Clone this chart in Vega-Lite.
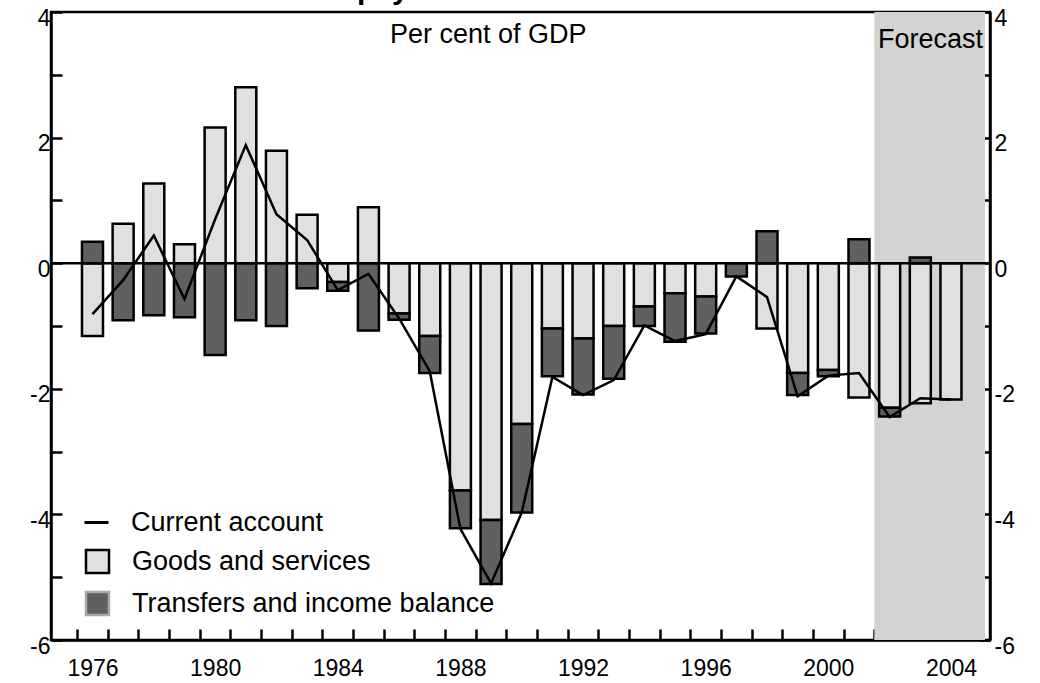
{
  "$schema": "https://vega.github.io/schema/vega-lite/v6.json",
  "width": 939,
  "height": 628,
  "autosize": "none",
  "padding": {"left": 51, "top": 12, "right": 50, "bottom": 43},
  "background": "white",
  "title": {"text": "Balance of payments", "fontSize": 30, "fontWeight": "bold", "font": "Liberation Sans", "anchor": "start", "frame": "group", "dx": 146, "dy": 27, "offset": 5, "baseline": "alphabetic", "color": "black"},
  "config": {
    "view": {"stroke": "black", "strokeWidth": 2.5},
    "font": "Liberation Sans",
    "axis": {"domainColor": "black", "domainWidth": 2.5, "tickColor": "black", "tickWidth": 2.5, "tickSize": -11, "labelFont": "Liberation Sans", "labelFontSize": 23, "labelColor": "black", "grid": false, "title": null, "labelOverlap": false, "labelFlush": false, "labelBound": false}
  },
  "datasets": {
    "bars": [
      {"year": 1976, "series": "Goods and services", "value": -1.16}, {"year": 1976, "series": "Transfers and income balance", "value": 0.34},
      {"year": 1977, "series": "Goods and services", "value": 0.63}, {"year": 1977, "series": "Transfers and income balance", "value": -0.91},
      {"year": 1978, "series": "Goods and services", "value": 1.27}, {"year": 1978, "series": "Transfers and income balance", "value": -0.83},
      {"year": 1979, "series": "Goods and services", "value": 0.30}, {"year": 1979, "series": "Transfers and income balance", "value": -0.86},
      {"year": 1980, "series": "Goods and services", "value": 2.16}, {"year": 1980, "series": "Transfers and income balance", "value": -1.46},
      {"year": 1981, "series": "Goods and services", "value": 2.80}, {"year": 1981, "series": "Transfers and income balance", "value": -0.91},
      {"year": 1982, "series": "Goods and services", "value": 1.79}, {"year": 1982, "series": "Transfers and income balance", "value": -1.00},
      {"year": 1983, "series": "Goods and services", "value": 0.77}, {"year": 1983, "series": "Transfers and income balance", "value": -0.40},
      {"year": 1984, "series": "Goods and services", "value": -0.30}, {"year": 1984, "series": "Transfers and income balance", "value": -0.14},
      {"year": 1985, "series": "Goods and services", "value": 0.89}, {"year": 1985, "series": "Transfers and income balance", "value": -1.07},
      {"year": 1986, "series": "Goods and services", "value": -0.80}, {"year": 1986, "series": "Transfers and income balance", "value": -0.10},
      {"year": 1987, "series": "Goods and services", "value": -1.16}, {"year": 1987, "series": "Transfers and income balance", "value": -0.59},
      {"year": 1988, "series": "Goods and services", "value": -3.62}, {"year": 1988, "series": "Transfers and income balance", "value": -0.60},
      {"year": 1989, "series": "Goods and services", "value": -4.09}, {"year": 1989, "series": "Transfers and income balance", "value": -1.02},
      {"year": 1990, "series": "Goods and services", "value": -2.56}, {"year": 1990, "series": "Transfers and income balance", "value": -1.41},
      {"year": 1991, "series": "Goods and services", "value": -1.04}, {"year": 1991, "series": "Transfers and income balance", "value": -0.76},
      {"year": 1992, "series": "Goods and services", "value": -1.20}, {"year": 1992, "series": "Transfers and income balance", "value": -0.89},
      {"year": 1993, "series": "Goods and services", "value": -1.00}, {"year": 1993, "series": "Transfers and income balance", "value": -0.84},
      {"year": 1994, "series": "Goods and services", "value": -0.69}, {"year": 1994, "series": "Transfers and income balance", "value": -0.31},
      {"year": 1995, "series": "Goods and services", "value": -0.48}, {"year": 1995, "series": "Transfers and income balance", "value": -0.77},
      {"year": 1996, "series": "Goods and services", "value": -0.53}, {"year": 1996, "series": "Transfers and income balance", "value": -0.59},
      {"year": 1997, "series": "Transfers and income balance", "value": -0.21},
      {"year": 1998, "series": "Goods and services", "value": -1.04}, {"year": 1998, "series": "Transfers and income balance", "value": 0.51},
      {"year": 1999, "series": "Goods and services", "value": -1.75}, {"year": 1999, "series": "Transfers and income balance", "value": -0.35},
      {"year": 2000, "series": "Goods and services", "value": -1.70}, {"year": 2000, "series": "Transfers and income balance", "value": -0.10},
      {"year": 2001, "series": "Goods and services", "value": -2.14}, {"year": 2001, "series": "Transfers and income balance", "value": 0.38},
      {"year": 2002, "series": "Goods and services", "value": -2.30}, {"year": 2002, "series": "Transfers and income balance", "value": -0.14},
      {"year": 2003, "series": "Goods and services", "value": -2.23}, {"year": 2003, "series": "Transfers and income balance", "value": 0.09},
      {"year": 2004, "series": "Goods and services", "value": -2.17}
    ],
    "ca": [
      {"year": 1976, "value": -0.81}, {"year": 1977, "value": -0.27}, {"year": 1978, "value": 0.44}, {"year": 1979, "value": -0.57},
      {"year": 1980, "value": 0.70}, {"year": 1981, "value": 1.88}, {"year": 1982, "value": 0.78}, {"year": 1983, "value": 0.37},
      {"year": 1984, "value": -0.43}, {"year": 1985, "value": -0.17}, {"year": 1986, "value": -0.88}, {"year": 1987, "value": -1.72},
      {"year": 1988, "value": -4.23}, {"year": 1989, "value": -5.10}, {"year": 1990, "value": -3.97}, {"year": 1991, "value": -1.81},
      {"year": 1992, "value": -2.10}, {"year": 1993, "value": -1.86}, {"year": 1994, "value": -0.99}, {"year": 1995, "value": -1.24},
      {"year": 1996, "value": -1.13}, {"year": 1997, "value": -0.21}, {"year": 1998, "value": -0.54}, {"year": 1999, "value": -2.12},
      {"year": 2000, "value": -1.79}, {"year": 2001, "value": -1.75}, {"year": 2002, "value": -2.45}, {"year": 2003, "value": -2.15},
      {"year": 2004, "value": -2.17}
    ]
  },
  "layer": [
    {
      "data": {"values": [{}]},
      "mark": {"type": "rect", "fill": "#d3d3d3", "strokeWidth": 0},
      "encoding": {
        "x": {"datum": 2001.5, "type": "quantitative", "scale": {"domain": [1974.81, 2005.11], "nice": false, "zero": false},
          "axis": {"orient": "bottom", "values": [1975.5, 1976, 1976.5, 1977.5, 1978.5, 1979.5, 1980, 1980.5, 1981.5, 1982.5, 1983.5, 1984, 1984.5, 1985.5, 1986.5, 1987.5, 1988, 1988.5, 1989.5, 1990.5, 1991.5, 1992, 1992.5, 1993.5, 1994.5, 1995.5, 1996, 1996.5, 1997.5, 1998.5, 1999.5, 2000, 2000.5, 2001.5, 2002.5, 2003.5, 2004, 2004.5],
            "labelExpr": "datum.value % 4 === 0 ? '' + datum.value : ''",
            "tickColor": {"condition": {"test": "datum.value % 1 === 0", "value": "transparent"}, "value": "black"},
            "labelPadding": 28}},
        "x2": {"datum": 2005.11},
        "y": {"datum": 4, "type": "quantitative", "scale": {"domain": [-6, 4], "nice": false, "zero": false}, "axis": null},
        "y2": {"datum": -6}
      }
    },
    {
      "data": {"name": "bars"},
      "mark": {"type": "bar", "stroke": "black", "strokeWidth": 2.5, "size": 21, "opacity": 1},
      "encoding": {
        "x": {"field": "year", "type": "quantitative", "scale": {"domain": [1974.81, 2005.11], "nice": false, "zero": false}, "axis": null},
        "y": {"field": "value", "type": "quantitative", "stack": "zero", "scale": {"domain": [-6, 4], "nice": false, "zero": false},
          "axis": {"orient": "left", "values": [-6, -5, -4, -3, -2, -1, 0, 1, 2, 3, 4], "labelExpr": "datum.value % 2 === 0 ? '' + datum.value : ''", "labelPadding": 12, "labelOffset": 6}},
        "fill": {"field": "series", "type": "nominal",
          "scale": {"domain": ["Goods and services", "Transfers and income balance"], "range": ["#e0e0e0", "#606060"]},
          "legend": {"orient": "none", "legendX": 33, "legendY": 536, "title": null, "symbolType": "square", "symbolSize": 529, "symbolStrokeColor": "black", "symbolStrokeWidth": 2.5, "symbolOpacity": 1, "labelFontSize": 27, "labelFont": "Liberation Sans", "labelColor": "black", "labelOffset": 21, "rowPadding": 9, "padding": 0, "labelLimit": 600,
            "encode": {"symbols": {"update": {"stroke": {"signal": "datum.value === 'Goods and services' ? 'black' : '#a8a8a8'"}}}}}},
        "order": {"field": "series", "sort": "ascending"}
      }
    },
    {
      "data": {"values": [{}]},
      "mark": {"type": "rule", "color": "black", "strokeWidth": 2.5},
      "encoding": {"y": {"datum": 0, "type": "quantitative", "scale": {"domain": [-6, 4], "nice": false, "zero": false}, "axis": null}}
    },
    {
      "data": {"name": "ca"},
      "mark": {"type": "line", "strokeWidth": 2.5},
      "encoding": {
        "x": {"field": "year", "type": "quantitative", "scale": {"domain": [1974.81, 2005.11], "nice": false, "zero": false}, "axis": null},
        "y": {"field": "value", "type": "quantitative", "scale": {"domain": [-6, 4], "nice": false, "zero": false},
          "axis": {"orient": "right", "values": [-6, -5, -4, -3, -2, -1, 0, 1, 2, 3, 4], "labelExpr": "datum.value % 2 === 0 ? '' + datum.value : ''", "labelPadding": 15, "labelOffset": 6}},
        "stroke": {"datum": "Current account", "type": "nominal", "scale": {"range": ["black"]},
          "legend": {"orient": "none", "legendX": 32, "legendY": 497, "title": null, "symbolType": "stroke", "symbolSize": 576, "symbolStrokeWidth": 3, "symbolStrokeColor": "black", "labelFontSize": 27, "labelFont": "Liberation Sans", "labelColor": "black", "labelOffset": 21, "padding": 0, "labelLimit": 600}}
      }
    },
    {
      "data": {"values": [{}]},
      "mark": {"type": "text", "text": "Per cent of GDP", "font": "Liberation Sans", "fontSize": 27, "align": "center", "baseline": "alphabetic", "color": "black"},
      "encoding": {
        "x": {"datum": 1988.91, "type": "quantitative", "scale": {"domain": [1974.81, 2005.11], "nice": false, "zero": false}, "axis": null},
        "y": {"datum": 3.51, "type": "quantitative", "scale": {"domain": [-6, 4], "nice": false, "zero": false}, "axis": null}
      }
    },
    {
      "data": {"values": [{}]},
      "mark": {"type": "text", "text": "Forecast", "font": "Liberation Sans", "fontSize": 27, "align": "left", "baseline": "alphabetic", "color": "black"},
      "encoding": {
        "x": {"datum": 2001.62, "type": "quantitative", "scale": {"domain": [1974.81, 2005.11], "nice": false, "zero": false}, "axis": null},
        "y": {"datum": 3.43, "type": "quantitative", "scale": {"domain": [-6, 4], "nice": false, "zero": false}, "axis": null}
      }
    }
  ],
  "resolve": {"axis": {"x": "independent", "y": "independent"}}
}
